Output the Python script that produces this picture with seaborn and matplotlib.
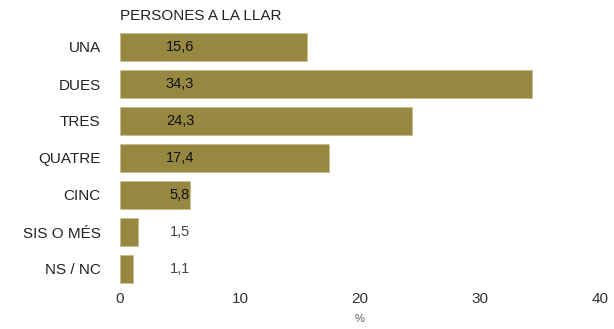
import matplotlib
matplotlib.use("Agg")
import matplotlib.pyplot as plt
import seaborn as sns
import pandas as pd

categories = ["UNA", "DUES", "TRES", "QUATRE", "CINC", "SIS O MÉS", "NS / NC"]
values = [15.6, 34.3, 24.3, 17.4, 5.8, 1.5, 1.1]
value_labels = ["15,6", "34,3", "24,3", "17,4", "5,8", "1,5", "1,1"]
xticks = [0, 10, 20, 30, 40]

sns.set_theme(style="white")
plt.rcParams['font.family'] = ['Liberation Sans', 'DejaVu Sans']

df = pd.DataFrame({"cat": categories, "val": values})

fig = plt.figure(figsize=(6.14, 3.29), dpi=100)
ax = fig.add_axes([120/614, 1-287.5/329, 480/614, 259/329])

sns.barplot(data=df, x="val", y="cat", orient="h", color="#978841",
            saturation=1, width=0.78, edgecolor="#c8bd8a", linewidth=0.6, ax=ax)

for i, (v, lab) in enumerate(zip(values, value_labels)):
    inside = v > 5
    ax.text(5.0, i, lab, ha="center", va="center", fontsize=10.5,
            color="#111111" if inside else "#444444")

ax.set_xlim(0, 40)
ax.set_ylim(6.5, -0.5)
ax.set_xticks(xticks)
ax.set_xticklabels([str(t) for t in xticks])
for s in ax.spines.values():
    s.set_visible(False)
ax.tick_params(axis="x", length=0, pad=3, labelsize=11, labelcolor="#333333")
ax.tick_params(axis="y", length=0, pad=14, labelsize=11, labelcolor="#222222")
ax.set_ylabel("")
ax.set_xlabel("%", fontsize=8, color="#555555", labelpad=6)
ax.grid(False)

fig.text(120/614, 1-16/329, "PERSONES A LA LLAR", ha="left", va="center",
         fontsize=11, color="#222222")

fig.savefig("out.png", dpi=100)
